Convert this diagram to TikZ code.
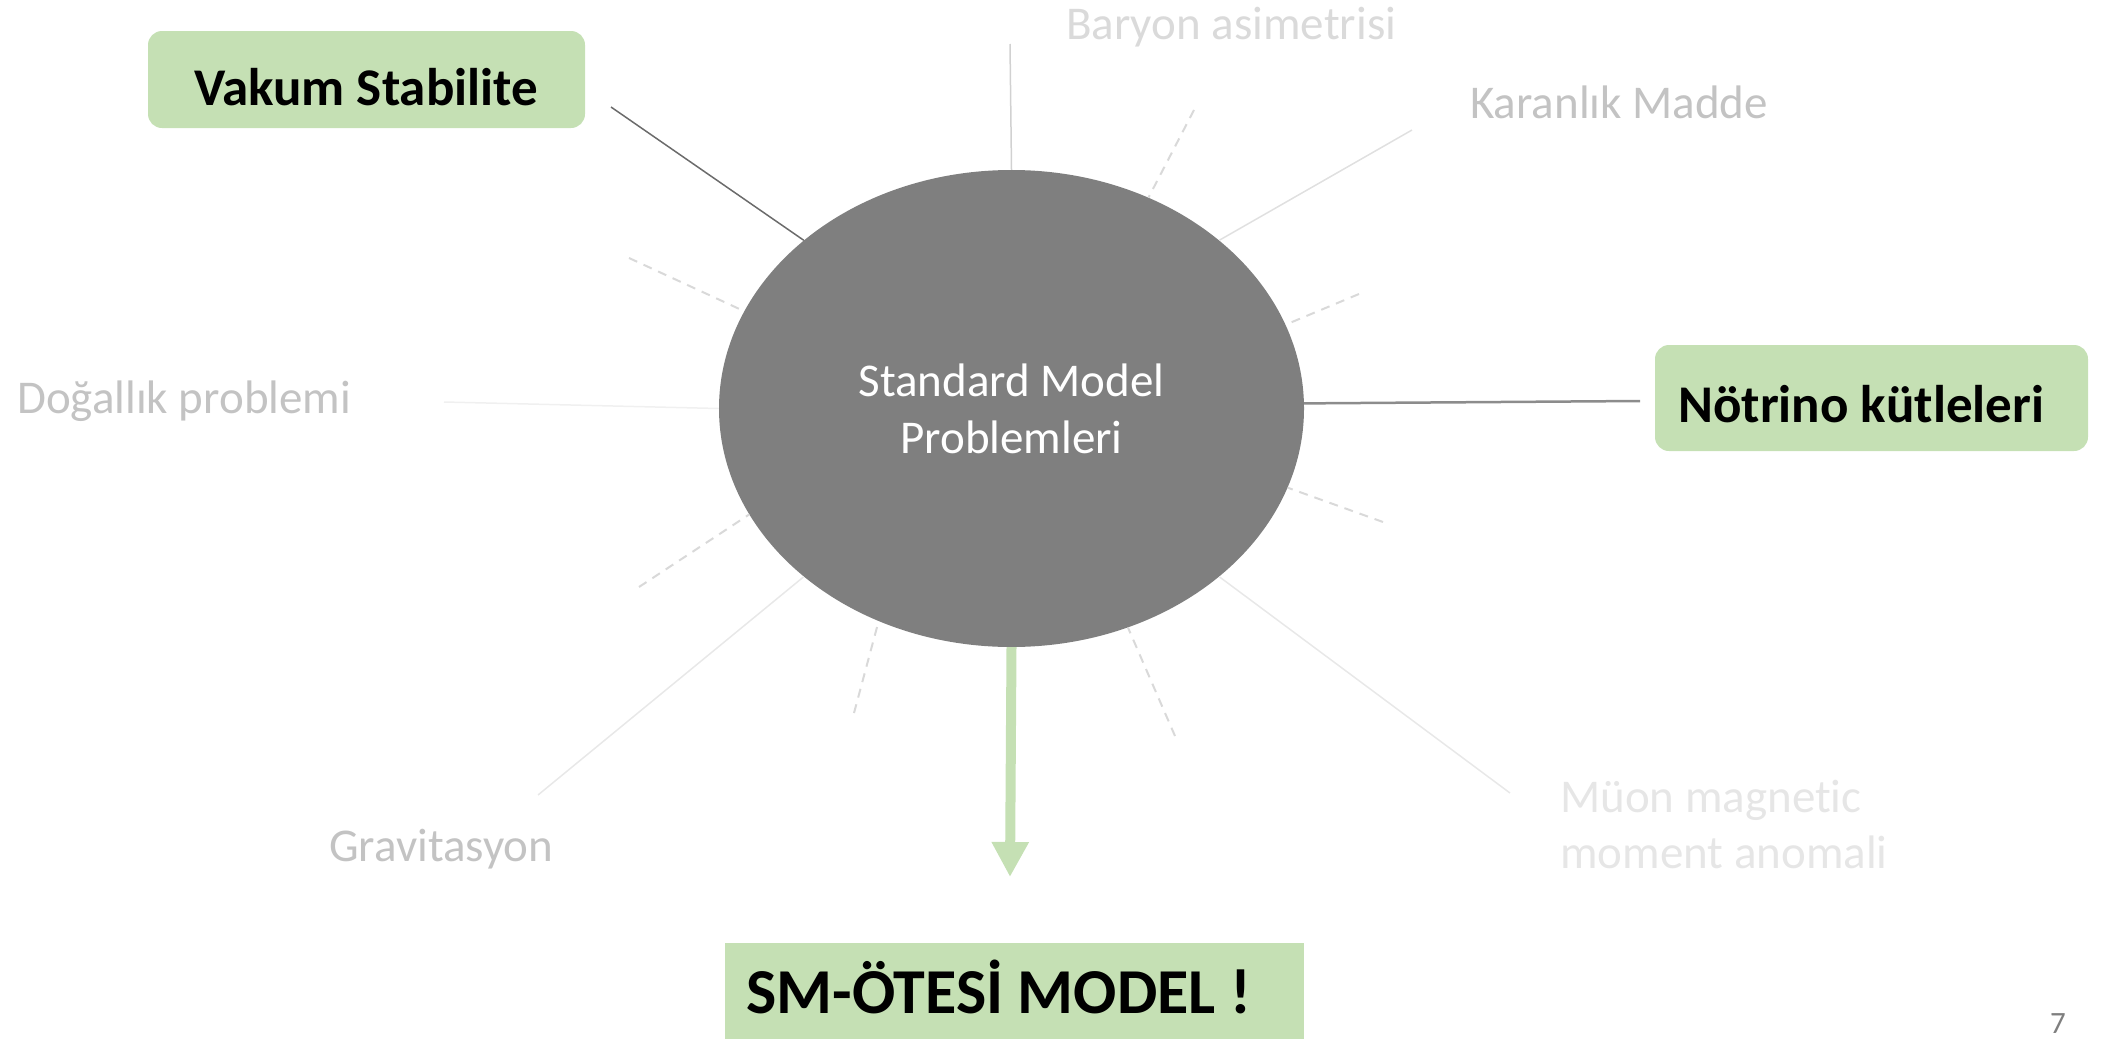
\documentclass[tikz,border=0pt]{standalone}
\usepackage{fontspec}
\setmainfont[Ligatures={NoCommon}]{Carlito}
\usetikzlibrary{arrows.meta,shapes.geometric}

\definecolor{smgray}{HTML}{7F7F7F}
\definecolor{boxgreen}{HTML}{C5E0B4}
\definecolor{lblA}{HTML}{C3C3C3}
\definecolor{lblB}{HTML}{DADADA}
\definecolor{lblC}{HTML}{E6E6E6}
\definecolor{dashgray}{HTML}{D9D9D9}

\tikzset{
  greenbox/.style={fill=boxgreen, draw=none, inner sep=0pt, rounded corners=14pt},
  boldlabel/.style={font=\fontsize{53}{60}\selectfont\bfseries, text=black, inner sep=0pt},
  greylabel/.style={font=\fontsize{47}{56}\selectfont, inner sep=0pt},
  spoke/.style={line width=1.5pt},
  dashspoke/.style={draw=dashgray, line width=2pt, dash pattern=on 9pt off 7pt}
}

\begin{document}
\begin{tikzpicture}[x=1pt,y=-1pt]
\useasboundingbox (0,0) rectangle (2105,1039);
\clip (0,0) rectangle (2105,1039);

% central ellipse
\node (ell) [ellipse, fill=smgray, inner sep=0pt, minimum width=585pt, minimum height=477pt,
  text=white, align=center, font=\fontsize{47}{57}\selectfont] at (1011.5,408.5)
  {Standard Model\\Problemleri};

% highlighted problems
\node (vbox) [greenbox, minimum width=437pt, minimum height=97pt] at (366.5,79.5) {};
\node (vtext) [boldlabel, anchor=base] at (366,105) {Vakum Stabilite};

\node (nbox) [greenbox, minimum width=433pt, minimum height=106pt] at (1871.5,398) {};
\node (ntext) [boldlabel, anchor=base west] at (1678,422) {Nötrino kütleleri};

% faded problems
\node (baryon) [greylabel, text=lblB, anchor=base west] at (1066,39) {Baryon asimetrisi};
\node (karan) [greylabel, text=lblA, anchor=base west] at (1470,118) {Karanlık Madde};
\node (dogal) [greylabel, text=lblA, anchor=base west] at (17,413) {Doğallık problemi};
\node (grav) [greylabel, text=lblA, anchor=base west] at (329,861) {Gravitasyon};
% base anchor of a two-line node sits on the last line
\node (muon) [greylabel, text=lblC, anchor=base west, align=left, font=\fontsize{47}{56}\selectfont] at (1560,868)
  {Müon magnetic\\moment anomali};

% outcome
\node (smbox) [fill=boxgreen, inner sep=0pt, minimum width=579pt, minimum height=110pt, anchor=north west] at (725,943) {};
\node (smtext) [font=\fontsize{64}{72}\selectfont\bfseries, inner sep=0pt, anchor=base west] at (746,1013) {SM-ÖTESİ MODEL !};

% slide number
\node (pnum) [font=\fontsize{31}{36}\selectfont, text=smgray, inner sep=0pt, anchor=base west] at (2050,1033) {7};

% free ends of the spokes
\coordinate (vEnd) at (611,107);
\coordinate (bEnd) at (1010,44);
\coordinate (kEnd) at (1412,130);
\coordinate (nEnd) at (1640,401);
\coordinate (mEnd) at (1510,793);
\coordinate (gEnd) at (538,795);
\coordinate (dEnd) at (444,402);
\coordinate (arrowTip) at (1010,877);

\coordinate (d1) at (1194,110);
\coordinate (d2) at (1359,294);
\coordinate (d3) at (1383,522);
\coordinate (d4) at (1175,736);
\coordinate (d5) at (854,713);
\coordinate (d6) at (639,587);
\coordinate (d7) at (629,258);

% solid spokes
\draw[spoke, draw=black!58] (vEnd) -- (ell.141.1);
\draw[spoke, draw=black!18] (bEnd) -- (ell.90);
\draw[spoke, draw=black!12] (kEnd) -- (ell.39.2);
\draw[line width=2.5pt, draw=black!45] (nEnd) -- (ell.1.4);
\draw[spoke, draw=black!9] (mEnd) -- (ell.-39.3);
\draw[spoke, draw=black!9] (gEnd) -- (ell.219.6);
\draw[spoke, draw=black!6] (dEnd) -- (ell.180);

% dashed spokes
\draw[dashspoke] (d1) -- (ell.57.8);
\draw[dashspoke] (d2) -- (ell.17.3);
\draw[dashspoke] (d3) -- (ell.-16.2);
\draw[dashspoke] (d4) -- (ell.-62.1);
\draw[dashspoke] (d5) -- (ell.238.9);
\draw[dashspoke] (d6) -- (ell.202.7);
\draw[dashspoke] (d7) -- (ell.160.6);

% arrow to the outcome
\draw[draw=boxgreen, line width=10pt, -{Triangle[width=35pt,length=35pt]}] (ell.south) -- (arrowTip);
\end{tikzpicture}
\end{document}
